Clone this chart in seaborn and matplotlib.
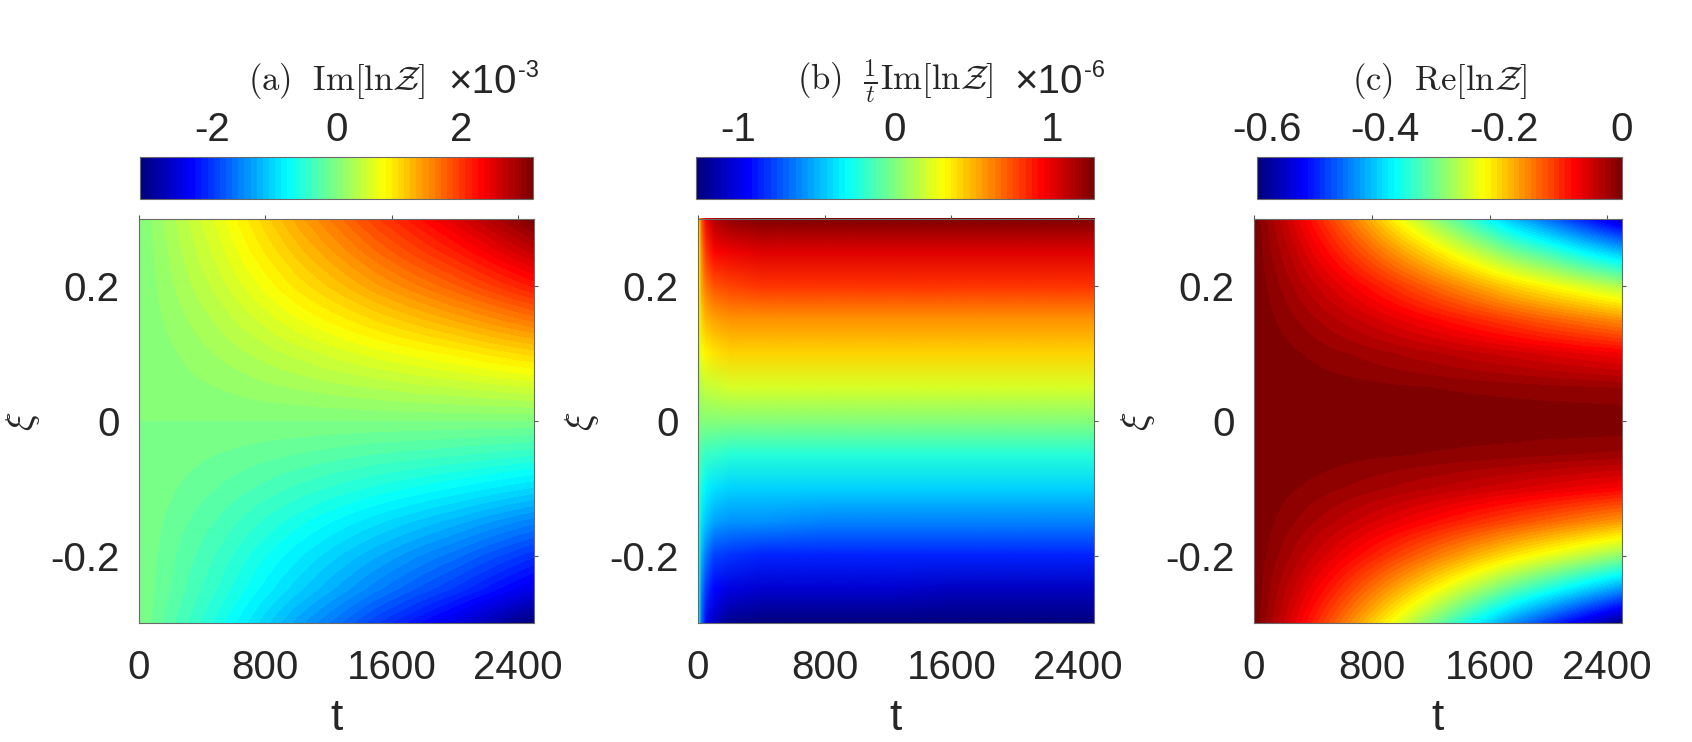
import numpy as np
import matplotlib
matplotlib.use("Agg")
import matplotlib.pyplot as plt
import seaborn as sns
from matplotlib.colors import Normalize, LinearSegmentedColormap
from matplotlib.image import NonUniformImage

sns.set_theme(style="white")
plt.rcParams["font.family"] = ["Liberation Sans", "DejaVu Sans"]
plt.rcParams["mathtext.fontset"] = "cm"
plt.rcParams["axes.unicode_minus"] = False

# grid (rows = xi from -0.3 to 0.3)
xi = [-0.3, -0.25, -0.2, -0.15, -0.1, -0.05, 0.0, 0.05, 0.1, 0.15, 0.2, 0.25, 0.3]

# (a) Im[ln Z]  in units of 1e-3
t_a = [0, 250, 500, 750, 1000, 1250, 1500, 1750, 2000, 2250, 2500]
im_a = [
    [0, -0.32, -0.63, -0.98, -1.33, -1.64, -1.96, -2.24, -2.53, -2.84, -3.16],
    [0, -0.25, -0.50, -0.78, -1.05, -1.30, -1.55, -1.78, -2.00, -2.25, -2.50],
    [0, -0.21, -0.41, -0.64, -0.86, -1.07, -1.27, -1.46, -1.64, -1.85, -2.05],
    [0, -0.16, -0.31, -0.48, -0.65, -0.81, -0.96, -1.10, -1.24, -1.40, -1.55],
    [0, -0.10, -0.20, -0.31, -0.42, -0.52, -0.62, -0.71, -0.80, -0.90, -1.00],
    [0, -0.05, -0.10, -0.15, -0.20, -0.25, -0.30, -0.34, -0.38, -0.43, -0.48],
    [0, 0, 0, 0, 0, 0, 0, 0, 0, 0, 0],
    [0, 0.05, 0.10, 0.16, 0.21, 0.26, 0.31, 0.36, 0.40, 0.45, 0.50],
    [0, 0.10, 0.21, 0.32, 0.43, 0.54, 0.64, 0.73, 0.82, 0.93, 1.03],
    [0, 0.16, 0.32, 0.50, 0.68, 0.84, 1.00, 1.15, 1.30, 1.46, 1.62],
    [0, 0.22, 0.44, 0.68, 0.92, 1.14, 1.36, 1.56, 1.76, 1.98, 2.20],
    [0, 0.27, 0.54, 0.84, 1.13, 1.40, 1.67, 1.92, 2.16, 2.43, 2.70],
    [0, 0.32, 0.63, 0.98, 1.33, 1.64, 1.96, 2.24, 2.53, 2.84, 3.16],
]

# (b) (1/t) Im[ln Z]  in units of 1e-6
t_b = [0, 20, 50, 100, 200, 400, 800, 1200, 1600, 2000, 2500]
im_b = [
    [-0.22, -0.69, -0.96, -1.11, -1.20, -1.25, -1.26, -1.26, -1.27, -1.27, -1.27],
    [-0.21, -0.60, -0.82, -0.95, -1.02, -1.06, -1.07, -1.07, -1.08, -1.08, -1.08],
    [-0.20, -0.50, -0.66, -0.76, -0.81, -0.85, -0.86, -0.86, -0.86, -0.86, -0.86],
    [-0.18, -0.37, -0.47, -0.54, -0.57, -0.59, -0.60, -0.60, -0.60, -0.60, -0.60],
    [-0.15, -0.27, -0.34, -0.38, -0.40, -0.41, -0.42, -0.42, -0.42, -0.42, -0.42],
    [-0.08, -0.14, -0.17, -0.19, -0.20, -0.21, -0.21, -0.21, -0.21, -0.21, -0.21],
    [0, 0, 0, 0, 0, 0, 0, 0, 0, 0, 0],
    [0.10, 0.15, 0.18, 0.19, 0.20, 0.21, 0.21, 0.21, 0.21, 0.21, 0.21],
    [0.19, 0.29, 0.35, 0.39, 0.40, 0.41, 0.42, 0.42, 0.42, 0.42, 0.42],
    [0.25, 0.40, 0.49, 0.54, 0.57, 0.58, 0.59, 0.59, 0.59, 0.59, 0.59],
    [0.29, 0.52, 0.65, 0.73, 0.77, 0.80, 0.81, 0.81, 0.81, 0.81, 0.81],
    [0.31, 0.63, 0.81, 0.92, 0.98, 1.02, 1.03, 1.03, 1.03, 1.03, 1.03],
    [0.33, 0.75, 0.99, 1.13, 1.20, 1.25, 1.26, 1.26, 1.26, 1.27, 1.27],
]

# (c) Re[ln Z]
t_c = [0, 250, 500, 750, 1000, 1250, 1500, 1750, 2000, 2250, 2500]
re_c = [
    [0, -0.060, -0.124, -0.188, -0.255, -0.320, -0.385, -0.450, -0.505, -0.558, -0.610],
    [0, -0.044, -0.091, -0.139, -0.187, -0.235, -0.283, -0.330, -0.370, -0.410, -0.450],
    [0, -0.029, -0.060, -0.091, -0.123, -0.155, -0.187, -0.218, -0.246, -0.273, -0.300],
    [0, -0.017, -0.035, -0.053, -0.071, -0.089, -0.107, -0.125, -0.142, -0.159, -0.175],
    [0, -0.008, -0.016, -0.024, -0.032, -0.040, -0.048, -0.056, -0.064, -0.072, -0.080],
    [0, -0.002, -0.004, -0.007, -0.009, -0.011, -0.013, -0.015, -0.018, -0.020, -0.022],
    [0, 0, 0, 0, 0, 0, 0, 0, 0, 0, 0],
    [0, -0.002, -0.004, -0.006, -0.008, -0.010, -0.012, -0.014, -0.016, -0.018, -0.020],
    [0, -0.007, -0.015, -0.022, -0.030, -0.037, -0.045, -0.052, -0.060, -0.067, -0.075],
    [0, -0.016, -0.033, -0.050, -0.067, -0.084, -0.101, -0.118, -0.135, -0.150, -0.165],
    [0, -0.027, -0.056, -0.085, -0.115, -0.145, -0.175, -0.205, -0.230, -0.255, -0.280],
    [0, -0.040, -0.085, -0.130, -0.175, -0.220, -0.265, -0.310, -0.345, -0.385, -0.420],
    [0, -0.055, -0.115, -0.175, -0.240, -0.300, -0.360, -0.420, -0.470, -0.520, -0.570],
]

# MATLAB-style jet, 64 levels
jet = LinearSegmentedColormap("mjet", {
    "red": [(0, 0, 0), (0.375, 0, 0), (0.625, 1, 1), (0.875, 1, 1), (1, 0.5, 0.5)],
    "green": [(0, 0, 0), (0.125, 0, 0), (0.375, 1, 1), (0.625, 1, 1), (0.875, 0, 0), (1, 0, 0)],
    "blue": [(0, 0.5, 0.5), (0.125, 1, 1), (0.375, 1, 1), (0.625, 0, 0), (1, 0, 0)],
}, N=64)

W, H = 1692, 742
fig = plt.figure(figsize=(W / 100, H / 100), dpi=100)
TXT = "#262626"


def box(x0, y0, x1, y1):
    return [x0 / W, 1 - y1 / H, (x1 - x0) / W, (y1 - y0) / H]


def style_axes(ax):
    ax.set_xlim(0, 2500)
    ax.set_ylim(-0.3, 0.3)
    ax.set_xticks([0, 800, 1600, 2400])
    ax.set_xticklabels(["0", "800", "1600", "2400"])
    ax.set_yticks([-0.2, 0, 0.2])
    ax.set_yticklabels(["-0.2", "0", "0.2"])
    ax.tick_params(axis="both", direction="out", length=3, width=0.8, color="#555555",
                   top=True, right=True, labelsize=29, labelcolor=TXT)
    ax.tick_params(axis="x", pad=16)
    ax.tick_params(axis="y", pad=11)
    for s in ax.spines.values():
        s.set_color("#6a6a6a")
        s.set_linewidth(0.8)
    ax.set_xlabel("t", fontsize=32, color=TXT, labelpad=8)
    ax.set_ylabel(r"$\xi$", fontsize=28, color=TXT, labelpad=6)


def style_cbar(cb, ticks, labels):
    cb.set_ticks(ticks)
    cb.set_ticklabels(labels)
    cb.ax.xaxis.set_ticks_position("top")
    cb.ax.tick_params(direction="in", length=3, width=0.8, color="#444444",
                      labelsize=29, labelcolor=TXT, pad=6)
    cb.outline.set_edgecolor("#6a6a6a")
    cb.outline.set_linewidth(0.8)


def edges(t):
    step = t[1] - t[0]
    return (t[0] - step / 2, t[-1] + step / 2, xi[0] - 0.025, xi[-1] + 0.025)


# panel (a)
ax_a = fig.add_axes(box(139, 219, 534, 623))
img_a = ax_a.imshow(np.array(im_a), origin="lower", extent=edges(t_a), aspect="auto",
                    cmap=jet, vmin=-3.16, vmax=3.16, interpolation="bilinear",
                    interpolation_stage="data")
style_axes(ax_a)
cax_a = fig.add_axes(box(140, 157, 533, 199))
cb_a = fig.colorbar(img_a, cax=cax_a, orientation="horizontal")
style_cbar(cb_a, [-2, 0, 2], ["-2", "0", "2"])

# panel (b)
ax_b = fig.add_axes(box(698, 219, 1094, 623))
img_b = NonUniformImage(ax_b, interpolation="bilinear", cmap=jet,
                        norm=Normalize(-1.27, 1.27), extent=(0, 2500, -0.3, 0.3))
img_b.set_data(t_b, xi, np.array(im_b))
ax_b.add_image(img_b)
style_axes(ax_b)
cax_b = fig.add_axes(box(696, 157, 1094, 199))
cb_b = fig.colorbar(img_b, cax=cax_b, orientation="horizontal")
style_cbar(cb_b, [-1, 0, 1], ["-1", "0", "1"])

# panel (c)
ax_c = fig.add_axes(box(1254, 219, 1622, 623))
img_c = ax_c.imshow(np.array(re_c), origin="lower", extent=edges(t_c), aspect="auto",
                    cmap=jet, vmin=-0.617, vmax=0, interpolation="bilinear",
                    interpolation_stage="data")
style_axes(ax_c)
cax_c = fig.add_axes(box(1257, 157, 1622, 199))
cb_c = fig.colorbar(img_c, cax=cax_c, orientation="horizontal")
style_cbar(cb_c, [-0.6, -0.4, -0.2, 0], ["-0.6", "-0.4", "-0.2", "0"])

# titles
fig.text(336.5 / W, 1 - 90 / H, r"$\mathrm{(a)\ \ Im}[\mathrm{ln}\mathcal{Z}]$",
         ha="center", va="baseline", fontsize=25, color=TXT)
fig.text(895 / W, 1 - 90 / H, r"$\mathrm{(b)}\ \ \frac{1}{t}\mathrm{Im}[\mathrm{ln}\mathcal{Z}]$",
         ha="center", va="baseline", fontsize=25, color=TXT)
fig.text(1439.5 / W, 1 - 90 / H, r"$\mathrm{(c)\ \ Re}[\mathrm{ln}\mathcal{Z}]$",
         ha="center", va="baseline", fontsize=25, color=TXT)

# colorbar exponents
for xr, exp in [(517, "-3"), (1083, "-6")]:
    fig.text(xr / W, 1 - 93 / H, "×10", ha="right", va="baseline", fontsize=29, color=TXT)
    fig.text((xr + 1) / W, 1 - 77 / H, exp, ha="left", va="baseline", fontsize=17, color=TXT)

fig.savefig("out.png", dpi=100, facecolor="white")
